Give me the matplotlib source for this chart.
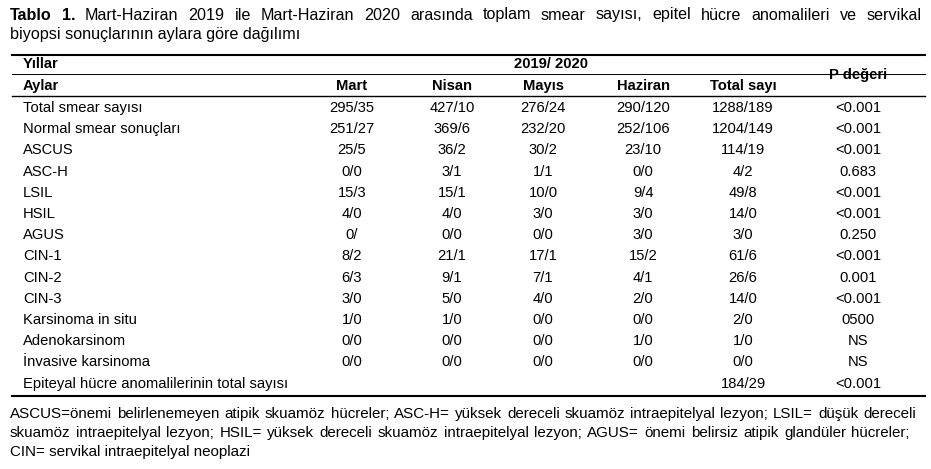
import matplotlib.pyplot as plt
plt.rcParams['font.family'] = ['Liberation Sans', 'DejaVu Sans']

months = ["Mart", "Nisan", "Mayıs", "Haziran", "Total sayı"]
row_labels = ["Total smear sayısı", "Normal smear sonuçları", "ASCUS", "ASC-H", "LSIL", "HSIL",
              "AGUS", "CIN-1", "CIN-2", "CIN-3", "Karsinoma in situ", "Adenokarsinom",
              "İnvasive karsinoma", "Epiteyal hücre anomalilerinin total sayısı"]
mart = ["295/35", "251/27", "25/5", "0/0", "15/3", "4/0", "0/", "8/2", "6/3", "3/0", "1/0", "0/0", "0/0", ""]
nisan = ["427/10", "369/6", "36/2", "3/1", "15/1", "4/0", "0/0", "21/1", "9/1", "5/0", "1/0", "0/0", "0/0", ""]
mayis = ["276/24", "232/20", "30/2", "1/1", "10/0", "3/0", "0/0", "17/1", "7/1", "4/0", "0/0", "0/0", "0/0", ""]
haziran = ["290/120", "252/106", "23/10", "0/0", "9/4", "3/0", "3/0", "15/2", "4/1", "2/0", "0/0", "1/0", "0/0", ""]
total = ["1288/189", "1204/149", "114/19", "4/2", "49/8", "14/0", "3/0", "61/6", "26/6", "14/0", "2/0", "1/0", "0/0", "184/29"]
pval = ["<0.001", "<0.001", "<0.001", "0.683", "<0.001", "<0.001", "0.250", "<0.001", "0.001", "<0.001", "0500", "NS", "NS", "<0.001"]

W, H = 931, 469
fig = plt.figure(figsize=(W/100, H/100), dpi=100)
ax = fig.add_axes([0, 0, 1, 1])
ax.set_xlim(0, W); ax.set_ylim(H, 0); ax.axis('off')
renderer = fig.canvas.get_renderer()

def width(t):
    return t.get_window_extent(renderer).width

def justify(words, x0, x1, y, fs, weights=None):
    weights = weights or ['normal'] * len(words)
    texts = [ax.text(0, y, w, fontsize=fs, fontweight=wt, va='center') for w, wt in zip(words, weights)]
    ws = [width(t) for t in texts]
    gap = (x1 - x0 - sum(ws)) / (len(words) - 1)
    x = x0
    for t, w in zip(texts, ws):
        t.set_x(x)
        x += w + gap

fs = 10.6
tfs = 11.6
title1 = "Mart-Haziran 2019 ile Mart-Haziran 2020 arasında toplam smear sayısı, epitel hücre anomalileri ve servikal".split()
justify(["Tablo", "1."] + title1, 10, 922, 15, tfs, ['bold', 'bold'] + ['normal'] * len(title1))
ax.text(10, 35, "biyopsi sonuçlarının aylara göre dağılımı", fontsize=tfs, va='center')

ax.plot([12, 925], [55, 55], color='black', lw=1.5)
ax.plot([12, 925], [74, 74], color='black', lw=0.7)
ax.plot([12, 925], [96, 96], color='black', lw=1.0)
ax.plot([12, 925], [396, 396], color='black', lw=1.5)

lx = 23
ax.text(lx, 64, "Yıllar", fontsize=fs, fontweight='bold', va='center')
ax.text(551, 64, "2019/ 2020", fontsize=fs, fontweight='bold', va='center', ha='center')
ax.text(lx, 86, "Aylar", fontsize=fs, fontweight='bold', va='center')
xs = [352, 452, 543, 643, 743]
for x, m in zip(xs, months):
    ax.text(x, 86, m, fontsize=fs, fontweight='bold', va='center', ha='center')
ax.text(858, 75, "P değeri", fontsize=fs, fontweight='bold', va='center', ha='center')

y0, dy = 108, 21.2
cols = [mart, nisan, mayis, haziran, total]
for i, lab in enumerate(row_labels):
    y = y0 + i*dy
    ax.text(lx, y, lab, fontsize=fs, va='center')
    for x, c in zip(xs, cols):
        if c[i]:
            ax.text(x, y, c[i], fontsize=fs, va='center', ha='center')
    ax.text(858, y, pval[i], fontsize=fs, va='center', ha='center')

foot = ["ASCUS=önemi belirlenemeyen atipik skuamöz hücreler; ASC-H= yüksek dereceli skuamöz intraepitelyal lezyon; LSIL= düşük dereceli",
        "skuamöz intraepitelyal lezyon; HSIL= yüksek dereceli skuamöz intraepitelyal lezyon; AGUS= önemi belirsiz atipik glandüler hücreler;",
        "CIN= servikal intraepitelyal neoplazi"]
ffs = 10.9
justify(foot[0].split(), 10, 916, 414, ffs)
justify(foot[1].split(), 10, 910, 433, ffs)
ax.text(10, 452, foot[2], fontsize=ffs, va='center')

fig.savefig("out.png", dpi=100)
